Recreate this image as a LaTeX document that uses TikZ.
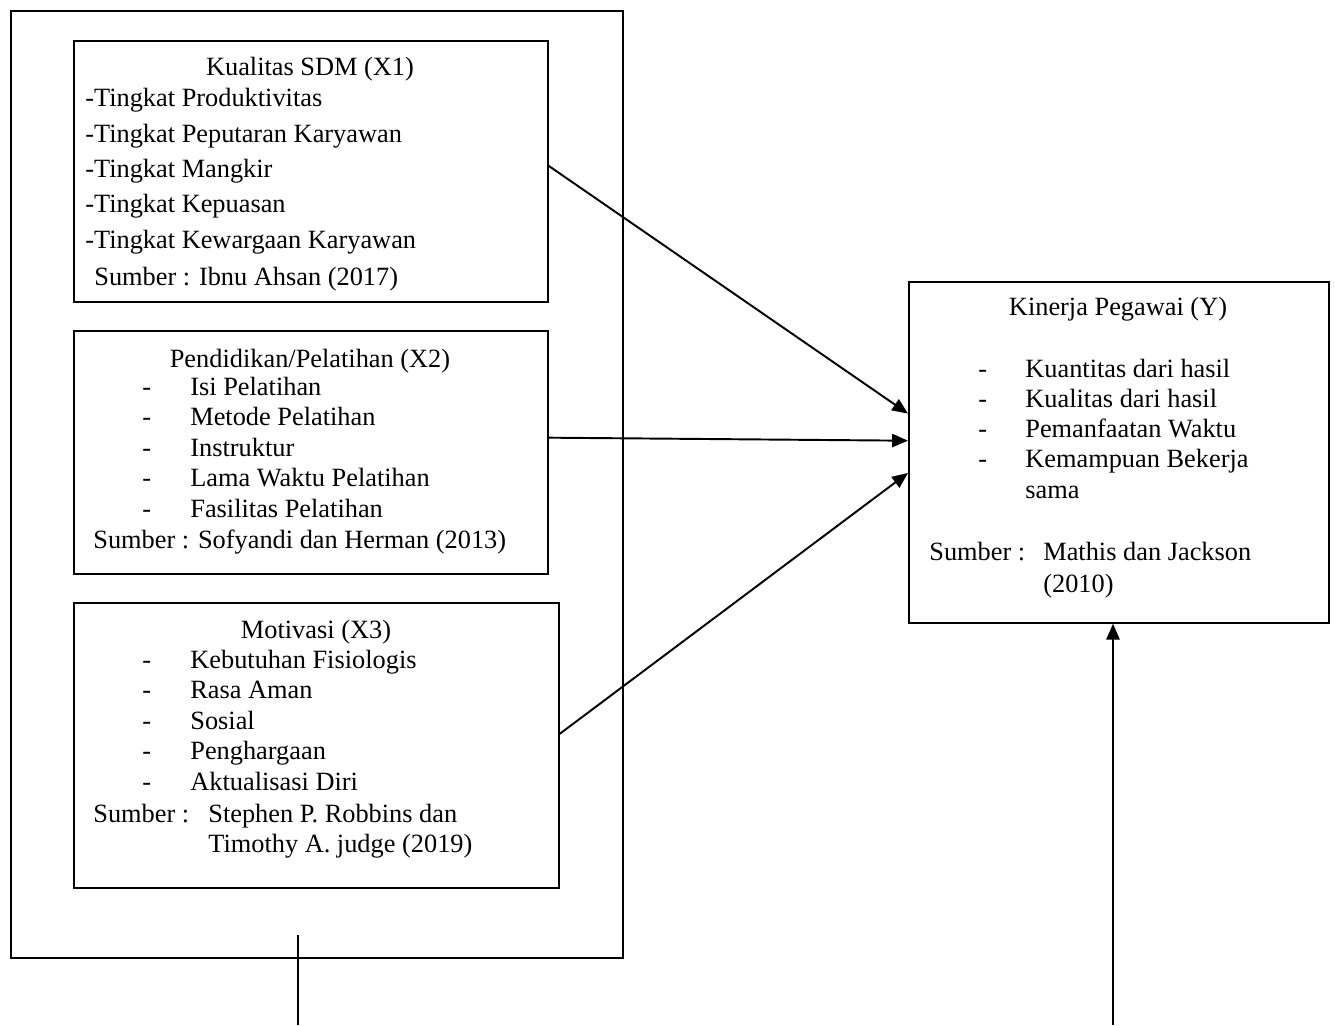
\documentclass[tikz,border=0pt]{standalone}
\usepackage{fontspec}
\setmainfont{Liberation Serif}
\usetikzlibrary{arrows.meta,calc}

\begin{document}
\begin{tikzpicture}[x=0.02cm,y=-0.02cm,
    box/.style={draw,line width=1pt,inner sep=0pt,anchor=north west},
    txt/.style={anchor=base west,inner sep=0pt},
    ttl/.style={anchor=base,inner sep=0pt},
    arr/.style={-{Triangle[length=9pt,width=7.5pt]},line width=1.1pt},
    font=\fontsize{15}{18}\selectfont]
    \useasboundingbox (0,0) rectangle (1335,1025);
    % boxes
    \node[box,line width=1.4pt,minimum width=12.24cm,minimum height=18.94cm] (outer) at (10,10) {};
    \node[box,minimum width=9.48cm,minimum height=5.22cm] (x1) at (73,40) {};
    \node[box,minimum width=9.48cm,minimum height=4.86cm] (x2) at (73,330) {};
    \node[box,minimum width=9.70cm,minimum height=5.70cm] (x3) at (73,602) {};
    \node[box,minimum width=8.40cm,minimum height=6.82cm] (y) at (908,281) {};
    % X1
    \node[ttl] (x1t) at (310,75) {Kualitas SDM (X1)};
    \foreach \t [count=\i] in {Produktivitas,Peputaran Karyawan,Mangkir,Kepuasan,Kewargaan Karyawan}
        \node[txt] (x1l\i) at (85,71.3+35.4*\i) {-Tingkat \t};
    \node[txt] (x1s) at (94,285) {Sumber : Ibnu Ahsan (2017)};
    % X2
    \node[ttl] (x2t) at (310,367) {Pendidikan/Pelatihan (X2)};
    \foreach \t [count=\i] in {Isi Pelatihan,Metode Pelatihan,Instruktur,Lama Waktu Pelatihan,Fasilitas Pelatihan}{
        \node[txt] (x2d\i) at (142,364.5+30.5*\i) {-};
        \node[txt] (x2l\i) at (190,364.5+30.5*\i) {\t};
    }
    \node[txt] (x2s) at (93,548) {Sumber : Sofyandi dan Herman (2013)};
    % X3
    \node[ttl] (x3t) at (316,638) {Motivasi (X3)};
    \foreach \t [count=\i] in {Kebutuhan Fisiologis,Rasa Aman,Sosial,Penghargaan,Aktualisasi Diri}{
        \node[txt] (x3d\i) at (142,638+30.4*\i) {-};
        \node[txt] (x3l\i) at (190,638+30.4*\i) {\t};
    }
    \node[txt] (x3s) at (93,822) {Sumber :};
    \node[txt] (x3a) at (208,822) {Stephen P. Robbins dan};
    \node[txt] (x3b) at (208,852) {Timothy A. judge (2019)};
    % Y
    \node[ttl] (yt) at (1118,315) {Kinerja Pegawai (Y)};
    \foreach \t [count=\i] in {Kuantitas dari hasil,Kualitas dari hasil,Pemanfaatan Waktu,Kemampuan Bekerja}{
        \node[txt] (yd\i) at (978,347+30*\i) {-};
        \node[txt] (yl\i) at (1025,347+30*\i) {\t};
    }
    \node[txt] (yl5) at (1025,498) {sama};
    \node[txt] (ys) at (929,560) {Sumber :};
    \node[txt] (ya) at (1043,560) {Mathis dan Jackson};
    \node[txt] (yb) at (1043,592) {(2010)};
    % connectors
    \draw[arr] ($(x1.north east)!0.479!(x1.south east)$) -- ($(y.north west)!0.387!(y.south west)$);
    \draw[arr] ($(x2.north east)!0.44!(x2.south east)$) -- ($(y.north west)!0.466!(y.south west)$);
    \draw[arr] ($(x3.north east)!0.46!(x3.south east)$) -- ($(y.north west)!0.56!(y.south west)$);
    \coordinate (lt) at (298,935);
    \coordinate (lb) at (298,1025);
    \coordinate (rb) at (1113,1025);
    \draw[line width=0.6pt] (lt) -- (lb);
    \draw[arr] (rb) -- (rb |- y.south);
\end{tikzpicture}
\end{document}
